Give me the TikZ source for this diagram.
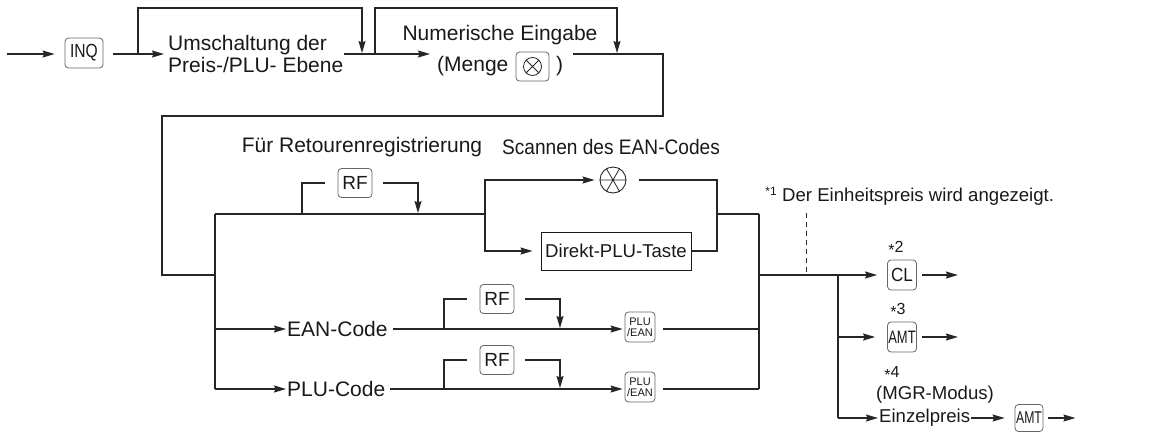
\documentclass[tikz,border=0pt]{standalone}
\usepackage{fontspec}
\usepackage{graphicx}
\setmainfont{Liberation Sans}
\usetikzlibrary{arrows.meta}
\newcommand{\fsz}[1]{\fontsize{#1}{#1}\selectfont}
\begin{document}
\begin{tikzpicture}[x=1pt,y=-1pt,
  ln/.style={line width=1.2pt,draw=black!85},
  ar/.style={ln,-{Stealth[length=12pt,width=7pt,inset=1.5pt]}},
  keybox/.style={draw=black!60,line width=0.8pt,rounded corners=3.5pt,inner sep=0pt,text=black!90},
  rfkey/.style={keybox,minimum width=34pt,minimum height=29pt,font=\fsz{19}},
  pekey/.style={keybox,minimum width=30pt,minimum height=30pt,align=center,font=\fontsize{11}{11}\selectfont},
  smkey/.style={keybox,minimum width=29pt,minimum height=30pt},
  txt/.style={inner sep=1pt,text=black!90,font=\fontsize{21}{22}\selectfont},
  stxt/.style={inner sep=1pt,text=black!90,font=\fontsize{18.6}{20}\selectfont},
  note/.style={inner sep=0pt,text=black!90,font=\fsz{16}},
]
\useasboundingbox (0,0) rectangle (1151,432);

% ---------- top row ----------
\coordinate (s0) at (7,54);
\node[keybox,minimum width=38pt,minimum height=30pt,font=\fsz{19}] (inq) at (84,53) {\scalebox{0.82}[1]{INQ}};
\draw[ar] (s0) -- ([xshift=-10pt]inq.west |- s0);
\node[txt,anchor=west,align=left] (umsch) at (167,54) {Umschaltung der\\Preis-/PLU- Ebene};
\draw[ar] ([xshift=10pt]inq.east |- s0) -- ([xshift=-3pt]umsch.west |- s0);
\coordinate (b1a) at (138,54);
\coordinate (b1b) at (362,53);
\draw[ar] (b1a) -- ++(0,-46) -| (b1b);

\node[txt] (numer) at (500,35) {Numerische Eingabe};
\node[txt,anchor=west] (menge) at (436,66) {(Menge};
\node[keybox,minimum width=33pt,minimum height=29pt] (mkey) at (532.5,66.5) {};
\draw[line width=0.8pt,black!85] (mkey.center) circle (9)
  (mkey.center) ++(45:9) -- ++(225:18)
  (mkey.center) ++(135:9) -- ++(315:18);
\node[txt,anchor=west] (mclose) at (555,66) {)};
\draw[ar] (umsch.east |- s0) -- ([xshift=-6pt]menge.west |- s0);
\coordinate (b2a) at (375,54);
\coordinate (b2b) at (617,53);
\draw[ar] (b2a) -- ++(0,-46) -| (b2b);

\coordinate (n1) at (573,54);
\coordinate (n2) at (663,116);
\coordinate (n3) at (162,275);
\coordinate (jA) at (215,275);
\draw[ln] (n1) -| (n2) -| (n3) -- (jA);

% ---------- middle block ----------
\node[txt] (fur) at (362,147) {Für Retourenregistrierung};
\node[txt] (scn) at (611,147) {\scalebox{0.91}[1]{Scannen des EAN-Codes}};

\coordinate (vt) at (215,214);
\coordinate (vb) at (215,389);
\draw[ln] (vt) -- (vb);
\coordinate (sp) at (485,214);
\draw[ln] (vt) -- (sp);

\node[rfkey] (rf1) at (355,183) {RF};
\coordinate (rf1a) at (302,214);
\coordinate (rf1b) at (418,213);
\draw[ln] (rf1a) |- ([xshift=-13pt]rf1.west);
\draw[ar] ([xshift=11pt]rf1.east) -| (rf1b);

\node[circle,draw=black!85,line width=0.9pt,minimum size=26pt,inner sep=0pt] (scan) at (613,180) {};
\draw[line width=0.8pt,black!85] (scan.west) -- (scan.east) (scan.60) -- (scan.240) (scan.120) -- (scan.300);
\draw[ar] (sp) |- ([xshift=-5pt]scan.west);

\node[draw=black!90,line width=1pt,minimum width=150pt,minimum height=38pt,stxt] (dir) at (616,251) {Direkt-PLU-Taste};
\draw[ar] (sp) |- ([xshift=-8pt]dir.west);

\coordinate (jr) at (717,214);
\coordinate (jm) at (759,214);
\draw[ln] ([xshift=13pt]scan.east) -| (dir.east -| jr) -- (dir.east);
\draw[ln] (jr) -- (jm);
\coordinate (vr) at (759,389);
\draw[ln] (jm) -- (vr);

% EAN row
\coordinate (ye) at (215,329);
\node[txt,anchor=west] (ean) at (286,329) {EAN-Code};
\draw[ar] (ye) -- (ean.west);
\node[pekey] (pe1) at (640,327) {PLU\\/EAN};
\draw[ar] ([xshift=4pt]ean.east |- ye) -- ([xshift=-2pt]pe1.west |- ye);
\node[rfkey] (rf2) at (497,299) {RF};
\coordinate (rf2a) at (444,329);
\coordinate (rf2b) at (560,328);
\draw[ln] (rf2a) |- ([xshift=-13pt]rf2.west);
\draw[ar] ([xshift=11pt]rf2.east) -| (rf2b);
\draw[ln] ([xshift=8pt]pe1.east |- ye) -- (vr |- ye);

% PLU row
\coordinate (yp) at (215,389);
\node[txt,anchor=west] (plu) at (286,389) {PLU-Code};
\draw[ar] (yp) -- (plu.west);
\node[pekey] (pe2) at (640,387) {PLU\\/EAN};
\draw[ar] ([xshift=4pt]plu.east |- yp) -- ([xshift=-2pt]pe2.west |- yp);
\node[rfkey] (rf3) at (497,360) {RF};
\coordinate (rf3a) at (444,389);
\coordinate (rf3b) at (560,388);
\draw[ln] (rf3a) |- ([xshift=-13pt]rf3.west);
\draw[ar] ([xshift=11pt]rf3.east) -| (rf3b);
\draw[ln] ([xshift=8pt]pe2.east |- yp) -- (vr);

% ---------- right block ----------
\node[stxt,anchor=west] (einh) at (781,197) {Der Einheitspreis wird angezeigt.};
\node[inner sep=0pt,font=\fsz{12},text=black!90] (st1) at (771,191) {*1};
\coordinate (mo) at (759,275);
\coordinate (d1) at (806,213);
\draw[line width=1pt,black!85,dash pattern=on 5pt off 4pt] (d1) -- (d1 |- mo);

\node[smkey,font=\fsz{19}] (cl) at (902,275) {\scalebox{0.9}[1]{CL}};
\draw[ar] (mo) -- ([xshift=-10pt]cl.west);
\draw[ar] ([xshift=5pt]cl.east) -- ++(36,0);
\node[note] (st2) at (896,248) {\raisebox{-3pt}{*}2};

\coordinate (sp2) at (838,275);
\coordinate (sp2b) at (838,418);
\draw[ln] (sp2) -- (sp2b);

\node[smkey,font=\fsz{18}] (amt1) at (902,337) {\scalebox{0.72}[1]{AMT}};
\draw[ar] (sp2 |- amt1) -- ([xshift=-12pt]amt1.west);
\draw[ar] ([xshift=5pt]amt1.east) -- ++(36,0);
\node[note] (st3) at (898,310) {\raisebox{-3pt}{*}3};

\node[note] (st4) at (892,373) {\raisebox{-3pt}{*}4};
\node[stxt] (mgr) at (935,395) {(MGR-Modus)};
\node[stxt,anchor=west] (einz) at (878,418) {Einzelpreis};
\draw[ar] (sp2b) -- (einz.west);
\node[keybox,minimum width=28pt,minimum height=27pt,font=\fsz{17}] (amt2) at (1029,418) {\scalebox{0.72}[1]{AMT}};
\draw[ar] (einz.east) -- ([xshift=-10pt]amt2.west);
\draw[ar] ([xshift=5pt]amt2.east) -- ++(27,0);
\end{tikzpicture}
\end{document}
